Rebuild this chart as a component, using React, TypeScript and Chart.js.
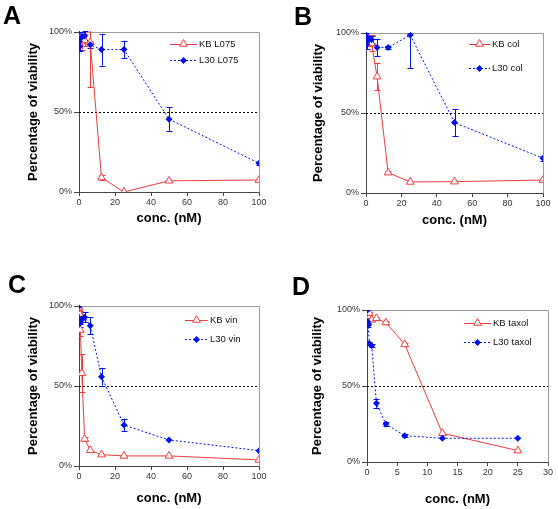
import React, { useEffect, useRef } from "react";
import { Chart, registerables } from "chart.js";

Chart.register(...registerables);

// ---------- data ----------
const CONC_ABC = [0, 0.2, 0.39, 0.78, 1.56, 3.125, 6.25, 12.5, 25, 50, 100];
const CONC_D = [0, 0.1, 0.2, 0.39, 0.78, 1.56, 3.125, 6.25, 12.5, 25];

const A_KB = [97, 96, 95, 98, 94, 95, 93.5, 9, 0, 7, 7.5];
const A_KB_ERR = [3, 2, 4, 2, 5, 4, 28, 1.5, 0, 0.5, 0.5];
const A_L30 = [100, 94, 91, 96, 97, 97.5, 92, 89, 89, 45.5, 18];
const A_L30_ERR = [2, 5, 3, 2, 3, 3, 2, 10, 5.5, 7.5, 1];

const B_KB = [99, 97, 96, 93, 95, 93.5, 72.7, 12.7, 6.9, 7.1, 8.1];
const B_KB_ERR = [1, 3, 2, 3, 2, 5, 8.5, 1, 0.5, 0.5, 0.5];
const B_L30 = [99.6, 95, 93, 97, 96, 96, 91, 91, 98.7, 44, 21.7];
const B_L30_ERR = [2, 3, 3, 2, 2, 2, 5.5, 1, 20.5, 8.5, 1.5];

const C_KB = [98.5, 96, 95, 85, 58, 16.9, 9.8, 7.1, 6.3, 6.3, 3.8];
const C_KB_ERR = [1, 2, 2, 3.6, 12, 1, 0.5, 0.5, 0.5, 0.5, 0.5];
const C_L30 = [100, 91.7, 89, 90.6, 91.7, 93, 87.7, 55.8, 25.6, 16.3, 9.6];
const C_L30_ERR = [1, 2, 2, 2, 2, 3, 5.4, 5.5, 4, 0.5, 0.5];

const D_KB = [97.5, 98, 96, 98, 93.5, 94.5, 91.7, 77.4, 18.9, 7.5];
const D_KB_ERR = [1, 1, 2, 1, 1, 1, 1, 1, 0.5, 0.5];
const D_L30 = [99.6, 92.3, 90, 78, 76.5, 38.6, 25, 17.3, 15.6, 15.6];
const D_L30_ERR = [0.5, 1, 1, 1, 1, 3, 1, 1, 0.5, 0.5];

const Y_TICK_SUFFIX = "%";
const X_TITLE = "conc. (nM)";
const Y_TITLE = "Percentage of viability";

// ---------- layout / style ----------
const W = 558;
const H = 509;
const FONT = "'Liberation Sans', Arial, sans-serif";
const RED = "#f03c3c";
const BLUE = "#0010e8";
const Y_AXIS_W = 60;
const X_AXIS_H = 45;
const TITLE_LH = 13 * 1.2;

type Panel = {
  letter: string;
  letterX: number;
  letterY: number;
  kbLabel: string;
  l30Label: string;
  conc: number[];
  kb: number[];
  kbErr: number[];
  l30: number[];
  l30Err: number[];
  xMax: number;
  xStep: number;
  L: number;
  R: number;
  T: number;
  B: number;
  yTitleX: number;
  xTitleY: number;
  lgX0: number;
  lgX1: number;
  lgTextX: number;
  lgY1: number;
  lgY2: number;
};

const PANELS: Panel[] = [
  {
    letter: "A", letterX: 3, letterY: 24,
    kbLabel: "KB L075", l30Label: "L30 L075",
    conc: CONC_ABC, kb: A_KB, kbErr: A_KB_ERR, l30: A_L30, l30Err: A_L30_ERR,
    xMax: 100, xStep: 20,
    L: 79, R: 259, T: 32, B: 192,
    yTitleX: 33, xTitleY: 218,
    lgX0: 170, lgX1: 197, lgTextX: 199, lgY1: 44, lgY2: 60,
  },
  {
    letter: "B", letterX: 294, letterY: 25,
    kbLabel: "KB col", l30Label: "L30 col",
    conc: CONC_ABC, kb: B_KB, kbErr: B_KB_ERR, l30: B_L30, l30Err: B_L30_ERR,
    xMax: 100, xStep: 20,
    L: 366, R: 543, T: 33, B: 193,
    yTitleX: 318, xTitleY: 220,
    lgX0: 469, lgX1: 490, lgTextX: 492, lgY1: 44, lgY2: 68,
  },
  {
    letter: "C", letterX: 8, letterY: 293,
    kbLabel: "KB vin", l30Label: "L30 vin",
    conc: CONC_ABC, kb: C_KB, kbErr: C_KB_ERR, l30: C_L30, l30Err: C_L30_ERR,
    xMax: 100, xStep: 20,
    L: 79, R: 259, T: 306, B: 466,
    yTitleX: 33, xTitleY: 498,
    lgX0: 185, lgX1: 208, lgTextX: 210, lgY1: 320, lgY2: 339,
  },
  {
    letter: "D", letterX: 292, letterY: 295,
    kbLabel: "KB taxol", l30Label: "L30 taxol",
    conc: CONC_D, kb: D_KB, kbErr: D_KB_ERR, l30: D_L30, l30Err: D_L30_ERR,
    xMax: 30, xStep: 5,
    L: 367, R: 548, T: 310, B: 462,
    yTitleX: 317, xTitleY: 499,
    lgX0: 464, lgX1: 491, lgTextX: 493, lgY1: 323, lgY2: 342,
  },
];

function drawTriangle(ctx: CanvasRenderingContext2D, x: number, y: number, r: number, color: string) {
  ctx.save();
  ctx.beginPath();
  ctx.moveTo(x, y - r);
  ctx.lineTo(x + r * 0.866, y + r * 0.5);
  ctx.lineTo(x - r * 0.866, y + r * 0.5);
  ctx.closePath();
  ctx.fillStyle = "#fff";
  ctx.fill();
  ctx.strokeStyle = color;
  ctx.lineWidth = 1;
  ctx.stroke();
  ctx.restore();
}

function drawDiamond(ctx: CanvasRenderingContext2D, x: number, y: number, r: number, color: string) {
  ctx.save();
  ctx.beginPath();
  ctx.moveTo(x, y - r);
  ctx.lineTo(x + r, y);
  ctx.lineTo(x, y + r);
  ctx.lineTo(x - r, y);
  ctx.closePath();
  ctx.fillStyle = color;
  ctx.fill();
  ctx.restore();
}

const panelPlugin = {
  id: "panelDecor",
  beforeDatasetsDraw(chart: any) {
    const { ctx, chartArea, scales } = chart;
    // frame (top & right)
    ctx.save();
    ctx.strokeStyle = "#9a9a9a";
    ctx.lineWidth = 1;
    ctx.beginPath();
    ctx.moveTo(Math.round(chartArea.left) + 0.5, Math.round(chartArea.top) + 0.5);
    ctx.lineTo(Math.round(chartArea.right) + 0.5, Math.round(chartArea.top) + 0.5);
    ctx.lineTo(Math.round(chartArea.right) + 0.5, Math.round(chartArea.bottom) + 0.5);
    ctx.stroke();
    // 50% dashed line
    const y50 = Math.round(scales.y.getPixelForValue(50)) + 0.5;
    ctx.strokeStyle = "#000";
    ctx.setLineDash([2, 2]);
    ctx.beginPath();
    ctx.moveTo(chartArea.left, y50);
    ctx.lineTo(chartArea.right, y50);
    ctx.stroke();
    ctx.setLineDash([]);
    // error bars
    ctx.beginPath();
    ctx.rect(chartArea.left, chartArea.top - 1, chartArea.right - chartArea.left, chartArea.bottom - chartArea.top + 2);
    ctx.clip();
    chart.data.datasets.forEach((ds: any) => {
      const errs: number[] = ds.errors || [];
      ctx.strokeStyle = ds.errorColor;
      ctx.lineWidth = 1;
      ds.data.forEach((pt: any, i: number) => {
        const e = errs[i] || 0;
        if (e <= 0.6) return;
        const x = Math.round(scales.x.getPixelForValue(pt.x)) + 0.5;
        const y1 = scales.y.getPixelForValue(pt.y + e);
        const y2 = scales.y.getPixelForValue(pt.y - e);
        ctx.beginPath();
        ctx.moveTo(x, y1);
        ctx.lineTo(x, y2);
        ctx.moveTo(x - 3, Math.round(y1) + 0.5);
        ctx.lineTo(x + 3, Math.round(y1) + 0.5);
        ctx.moveTo(x - 3, Math.round(y2) + 0.5);
        ctx.lineTo(x + 3, Math.round(y2) + 0.5);
        ctx.stroke();
      });
    });
    ctx.restore();
  },
  afterDraw(chart: any) {
    const { ctx } = chart;
    const p: Panel = chart.options.plugins.panelDecor.panel;
    ctx.save();
    // panel letter
    ctx.fillStyle = "#000";
    ctx.font = `bold 25px ${FONT}`;
    ctx.textBaseline = "alphabetic";
    ctx.textAlign = "left";
    ctx.fillText(p.letter, p.letterX, p.letterY);
    // legend
    ctx.lineWidth = 1;
    ctx.strokeStyle = RED;
    ctx.beginPath();
    ctx.moveTo(p.lgX0, p.lgY1 + 0.5);
    ctx.lineTo(p.lgX1, p.lgY1 + 0.5);
    ctx.stroke();
    drawTriangle(ctx, (p.lgX0 + p.lgX1) / 2, p.lgY1, 4.5, RED);
    ctx.strokeStyle = BLUE;
    ctx.setLineDash([2, 2]);
    ctx.beginPath();
    ctx.moveTo(p.lgX0, p.lgY2 + 0.5);
    ctx.lineTo(p.lgX1, p.lgY2 + 0.5);
    ctx.stroke();
    ctx.setLineDash([]);
    drawDiamond(ctx, (p.lgX0 + p.lgX1) / 2, p.lgY2 + 0.5, 3.5, BLUE);
    ctx.fillStyle = "#111";
    ctx.font = `9.5px ${FONT}`;
    ctx.textBaseline = "middle";
    ctx.fillText(p.kbLabel, p.lgTextX, p.lgY1 + 0.5);
    ctx.fillText(p.l30Label, p.lgTextX, p.lgY2 + 0.5);
    ctx.restore();
  },
};

function PanelChart({ p }: { p: Panel }) {
  const ref = useRef<HTMLCanvasElement | null>(null);
  useEffect(() => {
    if (!ref.current) return;
    const chart = new Chart(ref.current, {
      type: "line",
      data: {
        datasets: [
          {
            label: p.kbLabel,
            data: p.conc.map((x, i) => ({ x, y: p.kb[i] })),
            borderColor: RED,
            borderWidth: 1,
            pointStyle: "triangle",
            pointRadius: 4.5,
            pointBackgroundColor: "#fff",
            pointBorderColor: RED,
            pointBorderWidth: 1,
            tension: 0,
            order: 1,
            errors: p.kbErr,
            errorColor: RED,
          } as any,
          {
            label: p.l30Label,
            data: p.conc.map((x, i) => ({ x, y: p.l30[i] })),
            borderColor: BLUE,
            borderWidth: 1,
            borderDash: [2, 2],
            pointStyle: "rectRot",
            pointRadius: 3.5,
            pointBackgroundColor: BLUE,
            pointBorderColor: BLUE,
            pointBorderWidth: 0,
            tension: 0,
            order: 0,
            errors: p.l30Err,
            errorColor: BLUE,
          } as any,
        ],
      },
      options: {
        responsive: false,
        animation: false,
        events: [],
        layout: {
          padding: {
            left: p.L - Y_AXIS_W,
            top: p.T,
            right: W - p.R,
            bottom: H - p.B - X_AXIS_H,
          },
        },
        plugins: {
          legend: { display: false },
          tooltip: { enabled: false },
          panelDecor: { panel: p },
        } as any,
        scales: {
          x: {
            type: "linear",
            min: 0,
            max: p.xMax,
            afterFit: (s: any) => {
              s.height = X_AXIS_H;
            },
            ticks: {
              stepSize: p.xStep,
              color: "#333",
              font: { family: FONT, size: 9 },
              padding: 1,
              maxRotation: 0,
            },
            grid: {
              display: true,
              drawOnChartArea: false,
              drawTicks: true,
              tickLength: 4,
              color: "#444",
            },
            border: { display: true, color: "#444", width: 1 },
            title: {
              display: true,
              text: X_TITLE,
              color: "#000",
              font: { family: FONT, size: 13, weight: "bold" },
              padding: { top: 0, bottom: p.B + X_AXIS_H - TITLE_LH / 2 - p.xTitleY },
            },
          },
          y: {
            type: "linear",
            min: 0,
            max: 100,
            afterFit: (s: any) => {
              s.width = Y_AXIS_W;
            },
            ticks: {
              stepSize: 50,
              color: "#333",
              font: { family: FONT, size: 9 },
              padding: 2,
              callback: (v: any) => v + Y_TICK_SUFFIX,
            },
            grid: {
              display: true,
              drawOnChartArea: false,
              drawTicks: true,
              tickLength: 5,
              color: "#444",
            },
            border: { display: true, color: "#444", width: 1 },
            title: {
              display: true,
              text: Y_TITLE,
              color: "#000",
              font: { family: FONT, size: 13, weight: "bold" },
              padding: { top: p.yTitleX - (p.L - Y_AXIS_W) - TITLE_LH / 2, bottom: 0 },
            },
          },
        },
      },
      plugins: [panelPlugin],
    });
    return () => chart.destroy();
  }, [p]);
  return (
    <canvas
      ref={ref}
      width={W}
      height={H}
      style={{ position: "absolute", left: 0, top: 0, width: W, height: H }}
    />
  );
}

export default function App() {
  return (
    <div
      style={{
        position: "fixed",
        left: 0,
        top: 0,
        width: W,
        height: H,
        background: "#fff",
        overflow: "hidden",
      }}
    >
      {PANELS.map((p) => (
        <PanelChart key={p.letter} p={p} />
      ))}
    </div>
  );
}
